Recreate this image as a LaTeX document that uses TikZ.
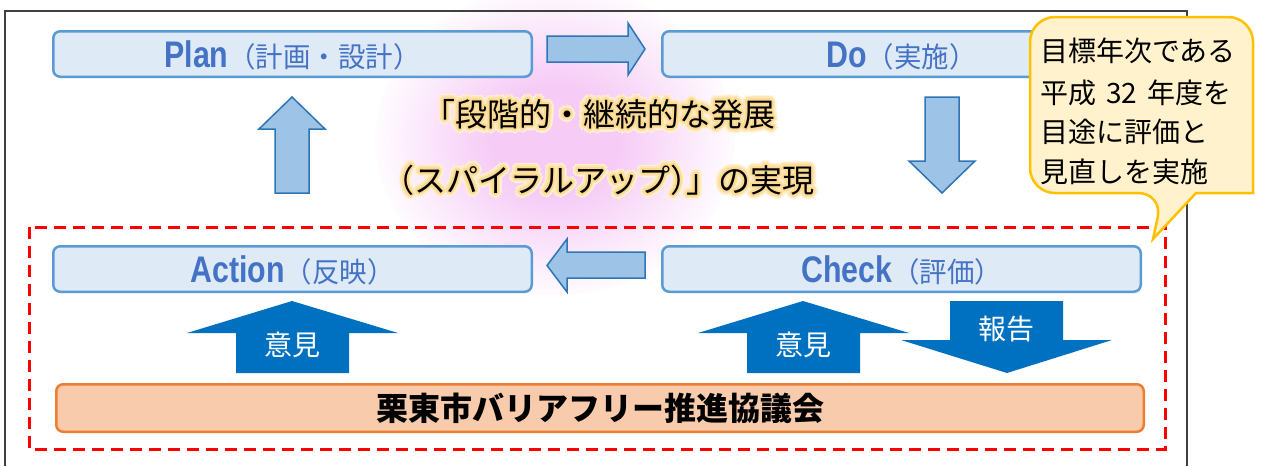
\documentclass[tikz,border=0pt]{standalone}
\usepackage{fontspec}
\usepackage{graphicx}
\newfontfamily\jp{Noto Sans CJK JP}
\newfontfamily\lat{Liberation Sans}
\usetikzlibrary{calc}
\definecolor{boxfill}{HTML}{DEEBF7}
\definecolor{boxline}{HTML}{5B9BD5}
\definecolor{pdcatext}{HTML}{4472C4}
\definecolor{arrfill}{HTML}{9DC3E6}
\definecolor{arrline}{HTML}{2E75B6}
\definecolor{solidblue}{HTML}{0070C0}
\definecolor{callfill}{HTML}{FFF2CC}
\definecolor{callline}{HTML}{FFC000}
\definecolor{orgfill}{HTML}{F8CBAD}
\definecolor{orgline}{HTML}{ED7D31}
\definecolor{pinkc}{HTML}{F6CCF6}
\definecolor{framec}{HTML}{404040}
\definecolor{glowa}{HTML}{FFF2D6}
\definecolor{glowb}{HTML}{FFE6B4}
\definecolor{glowc}{HTML}{FDDA92}
\pgfdeclareradialshading{pinkglow}{\pgfpoint{0bp}{0bp}}{color(0bp)=(pinkc); color(9bp)=(pinkc); color(26bp)=(white); color(50bp)=(white)}
\newcommand{\pdcalabel}[2]{{\lat\bfseries\fontsize{37}{37}\selectfont\scalebox{0.82}[1]{#1}}{\jp\fontsize{28}{28}\selectfont\scalebox{0.98}[1]{#2}}}
\newcommand{\lineone}{「段階的・継続的な発展}
\newcommand{\linetwo}{（スパイラルアップ）\kern-0.5em」の実現}
\begin{document}
\begin{tikzpicture}[x=1pt,y=-1pt,
  pdcabox/.style={draw=boxline, fill=boxfill, line width=2.5pt, rounded corners=7pt, minimum width=478.5pt, minimum height=45.5pt, inner sep=0pt, text=pdcatext, text height=27pt, text depth=0pt},
  lightarrow/.style={draw=arrline, fill=arrfill, line width=1.5pt},
  solidarrow/.style={fill=solidblue},
  wlabel/.style={text=white, font=\jp\fontsize{28}{28}\selectfont, inner sep=0pt},
  ctext/.style={font=\jp\fontsize{32}{32}\selectfont, anchor=base, inner sep=0pt},
  calltext/.style={font=\jp\fontsize{28}{28}\selectfont, anchor=base west, inner sep=0pt},
  orgbox/.style={draw=orgline, fill=orgfill, line width=2.5pt, rounded corners=7pt, minimum width=1087.5pt, minimum height=47.5pt, inner sep=0pt, font=\jp\bfseries\fontsize{32}{32}\selectfont},
  reddash/.style={draw=red, line width=3pt, dash pattern=on 12pt off 7pt},
  callout/.style={draw=callline, fill=callfill, line width=2.5pt, line join=miter},
  framestyle/.style={draw=framec, line width=1.2pt}
]
\useasboundingbox (0,0) rectangle (1263,466);
\fill[white] (0,0) rectangle (1263,466);
% pink glow
\shade[shading=pinkglow] (555,140) ellipse [x radius=180, y radius=155];
% frame
\draw[framestyle] (5,466) -- (5,11) -- (1187,11) -- (1187,466);
% red dashed area
\draw[reddash] (29,227) rectangle (1165,449);
% PDCA boxes
\node[pdcabox] (plan) at (292.5,54) {\pdcalabel{Plan}{（計画・設計）}};
\node[pdcabox] (do) at (901.5,54) {\pdcalabel{Do}{（実施）}};
\node[pdcabox] (act) at (292.5,269) {\pdcalabel{Action}{（反映）}};
\node[pdcabox] (chk) at (901.5,269) {\pdcalabel{Check}{（評価）}};
% light arrows
\draw[lightarrow] (547,36) -- (628,36) -- (628,23) -- (645,49) -- (628,75) -- (628,62) -- (547,62) -- cycle;
\draw[lightarrow] (645,252) -- (567,252) -- (567,239) -- (547,265.5) -- (567,292) -- (567,278) -- (645,278) -- cycle;
\draw[lightarrow] (292,97) -- (325,129) -- (309,129) -- (309,193) -- (275,193) -- (275,129) -- (259,129) -- cycle;
\draw[lightarrow] (925,97) -- (959,97) -- (959,161) -- (975,161) -- (942,193) -- (909,161) -- (925,161) -- cycle;
% center text with glow
\coordinate (l1pos) at (599,126);
\coordinate (l2pos) at (598,192);
\foreach \r/\c/\k in {5/glowa/1, 3.5/glowb/2, 2/glowc/3} {
  \foreach \a in {0,30,...,330} {
    \node[ctext, text=\c] (g\k a\a) at ($(l1pos)+(\a:\r)$) {\lineone};
    \node[ctext, text=\c] (g\k b\a) at ($(l2pos)+(\a:\r)$) {\linetwo};
  }
}
\node[ctext] (line1) at (l1pos) {\lineone};
\node[ctext] (line2) at (l2pos) {\linetwo};
% solid arrows
\fill[solidarrow] (292,301) -- (398,333) -- (349,333) -- (349,373) -- (236,373) -- (236,333) -- (187,333) -- cycle;
\fill[solidarrow] (803,301) -- (909,333) -- (860,333) -- (860,373) -- (747,373) -- (747,333) -- (698,333) -- cycle;
\fill[solidarrow] (950,301) -- (1063,301) -- (1063,340) -- (1112,340) -- (1007,373) -- (901,340) -- (950,340) -- cycle;
\node[wlabel] (op1) at (292,345) {意見};
\node[wlabel] (op2) at (803,345) {意見};
\node[wlabel] (rep) at (1006,329) {報告};
% council box
\node[orgbox] (council) at (600,408) {栗東市バリアフリー推進協議会};
% callout
\draw[callout] (1153,239) -- (1196,193) -- (1253,193) [rounded corners=25pt] -- (1253,17) -- (1030,17) -- (1030,193) -- (1163,193) [sharp corners] -- cycle;
\node[calltext] (c1) at (1040,61) {目標年次である};
\node[calltext] (c2) at (1040,103) {平成\hspace{10pt}32\hspace{10pt}年度を};
\node[calltext] (c3) at (1040,142) {目途に評価と};
\node[calltext] (c4) at (1040,182) {見直しを実施};
\end{tikzpicture}
\end{document}
